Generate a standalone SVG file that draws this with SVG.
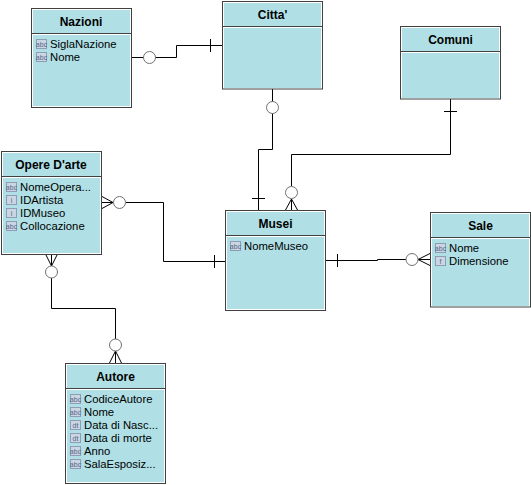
<svg xmlns="http://www.w3.org/2000/svg" xmlns:xlink="http://www.w3.org/1999/xlink" width="531" height="485" viewBox="0 0 531 485">
<style>
text{font-family:"Liberation Sans",Arial,sans-serif}
.box{fill:#fff;stroke:#404040;stroke-width:1}
.fill{fill:#b0e0e6}
.sep{stroke:#404040;stroke-width:1}
.title{font-size:12px;font-weight:bold;text-anchor:middle;fill:#000}
.item{font-size:11.300px;fill:#000}
.ic{fill:#ccd5e2;stroke:#8d9db5;stroke-width:1}
.ict{font-size:7px;fill:#54678a;text-anchor:middle}
.c{fill:none;stroke:#000;stroke-width:1}
.o{fill:#fff;stroke:#707070;stroke-width:1}
</style>
<defs>
<rect id="icon" class="ic" width="10" height="9"/>
</defs>
<g id="connectors">
<path class="c" d="M132 57.500H176.500V45.500H222M210.500 39V52"/>
<circle class="o" cx="149.500" cy="57.500" r="6"/>
<path class="c" d="M272.500 89V149.500H258.500V210M252 198.500H265"/>
<circle class="o" cx="272.500" cy="107.500" r="6"/>
<path class="c" d="M450.500 99V154.500H291.500V186M444 111.500H457M291.500 199V210M291.500 199L285.500 210M291.500 199L297.500 210"/>
<circle class="o" cx="291.500" cy="192.500" r="6"/>
<path class="c" d="M126 202.500H163.500V261.500H225M214.500 255V268M113 202.500H102M113 202.500L102 196.500M113 202.500L102 208.500"/>
<circle class="o" cx="119.500" cy="202.500" r="6"/>
<path class="c" d="M326 260.500H377.500V259.500H406M337.500 254V267M418 259.500H430M418 259.500L430 253.500M418 259.500L430 265.500"/>
<circle class="o" cx="412" cy="259.500" r="6"/>
<path class="c" d="M51.500 278V308.500H115.500V339M51.500 266V254M51.500 266L45.500 254M51.500 266L57.500 254M115.500 351V363M115.500 351L109.500 363M115.500 351L121.500 363"/>
<circle class="o" cx="51.500" cy="272" r="6"/>
<circle class="o" cx="115.500" cy="345" r="6"/>
</g>
<g id="nazioni">
<rect class="box" x="31.500" y="8.500" width="100" height="99"/>
<rect class="fill" x="33" y="10" width="97" height="23"/>
<rect class="fill" x="33" y="35" width="97" height="71"/>
<path class="sep" d="M32 33.500H131"/>
<text class="title" x="81" y="26">Nazioni</text>
<use xlink:href="#icon" x="36.500" y="39.500"/><text class="ict" x="41.500" y="46.500">abc</text><text class="item" x="50" y="48">SiglaNazione</text>
<use xlink:href="#icon" x="36.500" y="52.500"/><text class="ict" x="41.500" y="59.500">abc</text><text class="item" x="50" y="61">Nome</text>
</g>
<g id="citta">
<rect class="box" x="222.500" y="1.500" width="100" height="87.500"/>
<rect class="fill" x="224" y="3" width="97" height="23"/>
<rect class="fill" x="224" y="28" width="97" height="60"/>
<path class="sep" d="M223 26.500H322"/>
<text class="title" x="272.500" y="19">Citta'</text>
</g>
<g id="comuni">
<rect class="box" x="400.500" y="26.500" width="100" height="72.500"/>
<rect class="fill" x="402" y="28" width="97" height="23"/>
<rect class="fill" x="402" y="53" width="97" height="45"/>
<path class="sep" d="M401 51.500H500"/>
<text class="title" x="450.500" y="44">Comuni</text>
</g>
<g id="opere">
<rect class="box" x="1.500" y="151.500" width="100" height="103"/>
<rect class="fill" x="3" y="153" width="97" height="23"/>
<rect class="fill" x="3" y="178" width="97" height="75"/>
<path class="sep" d="M2 176.500H101"/>
<text class="title" x="51" y="169">Opere D'arte</text>
<use xlink:href="#icon" x="6.500" y="182.500"/><text class="ict" x="11.500" y="189.500">abc</text><text class="item" x="20" y="191">NomeOpera...</text>
<use xlink:href="#icon" x="6.500" y="195.500"/><text class="ict" x="11.500" y="202.500">i</text><text class="item" x="20" y="204">IDArtista</text>
<use xlink:href="#icon" x="6.500" y="208.500"/><text class="ict" x="11.500" y="215.500">i</text><text class="item" x="20" y="217">IDMuseo</text>
<use xlink:href="#icon" x="6.500" y="221.500"/><text class="ict" x="11.500" y="228.500">abc</text><text class="item" x="20" y="230">Collocazione</text>
</g>
<g id="musei">
<rect class="box" x="225.500" y="210.500" width="100" height="100"/>
<rect class="fill" x="227" y="212" width="97" height="23"/>
<rect class="fill" x="227" y="237" width="97" height="72"/>
<path class="sep" d="M226 235.500H325"/>
<text class="title" x="275.500" y="228">Musei</text>
<use xlink:href="#icon" x="230.500" y="241.500"/><text class="ict" x="235.500" y="248.500">abc</text><text class="item" x="244" y="250">NomeMuseo</text>
</g>
<g id="sale">
<rect class="box" x="430.500" y="212.500" width="100" height="94.500"/>
<rect class="fill" x="432" y="214" width="97" height="23"/>
<rect class="fill" x="432" y="239" width="97" height="67"/>
<path class="sep" d="M431 237.500H530"/>
<text class="title" x="480.500" y="230">Sale</text>
<use xlink:href="#icon" x="435.500" y="243.500"/><text class="ict" x="440.500" y="250.500">abc</text><text class="item" x="449" y="252">Nome</text>
<use xlink:href="#icon" x="435.500" y="256.500"/><text class="ict" x="440.500" y="263.500">f</text><text class="item" x="449" y="265">Dimensione</text>
</g>
<g id="autore">
<rect class="box" x="65.500" y="363.500" width="100" height="120"/>
<rect class="fill" x="67" y="365" width="97" height="23"/>
<rect class="fill" x="67" y="390" width="97" height="92"/>
<path class="sep" d="M66 388.500H165"/>
<text class="title" x="115.500" y="381">Autore</text>
<use xlink:href="#icon" x="70.500" y="394.500"/><text class="ict" x="75.500" y="401.500">abc</text><text class="item" x="84" y="403">CodiceAutore</text>
<use xlink:href="#icon" x="70.500" y="407.500"/><text class="ict" x="75.500" y="414.500">abc</text><text class="item" x="84" y="416">Nome</text>
<use xlink:href="#icon" x="70.500" y="420.500"/><text class="ict" x="75.500" y="427.500">dt</text><text class="item" x="84" y="429">Data di Nasc...</text>
<use xlink:href="#icon" x="70.500" y="433.500"/><text class="ict" x="75.500" y="440.500">dt</text><text class="item" x="84" y="442">Data di morte</text>
<use xlink:href="#icon" x="70.500" y="446.500"/><text class="ict" x="75.500" y="453.500">abc</text><text class="item" x="84" y="455">Anno</text>
<use xlink:href="#icon" x="70.500" y="459.500"/><text class="ict" x="75.500" y="466.500">abc</text><text class="item" x="84" y="468">SalaEsposiz...</text>
</g>
</svg>
